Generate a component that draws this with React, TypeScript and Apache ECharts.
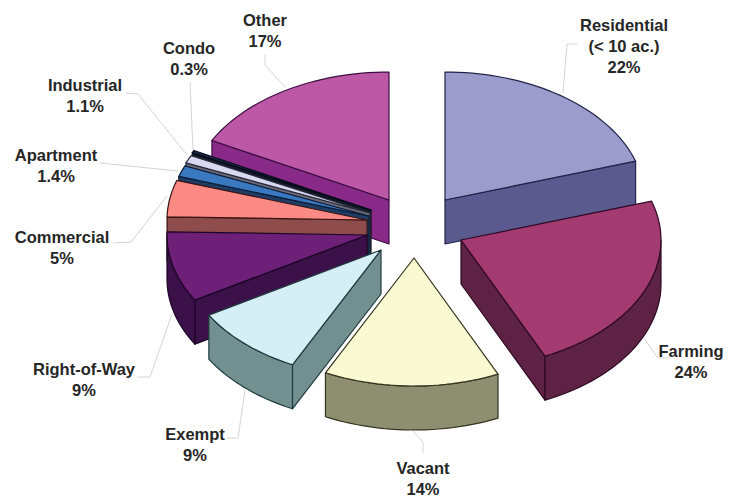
import React, { useEffect, useRef } from "react";
import * as echarts from "echarts";

// Data: clockwise from 12 o'clock.
const categories = ["Residential\n(< 10 ac.)", "Farming", "Vacant", "Exempt", "Right-of-Way", "Commercial", "Apartment", "Industrial", "Condo", "Other"];
// Printed percentages.
const percentLabels = ["22%", "24%", "14%", "9%", "9%", "5%", "1.4%", "1.1%", "0.3%", "17%"];
// Share of the circle each slice occupies.
const sliceShares = [20.1, 23.0, 14.2, 9.2, 8.9, 4.6, 1.4, 1.0, 0.3, 17.3];

// Styles and layout.
const topColors = ["#9c9ccc", "#a33a70", "#fafad2", "#d6eef5", "#6e2078", "#fb8a84", "#3a78c0", "#d8d8f0", "#1c2850", "#bd58a6"];
const wallColors = ["#5a5a8e", "#5e2244", "#8e8e70", "#729090", "#3c1048", "#8e4c4c", "#1e3c64", "#6a6a78", "#101828", "#8a2a88"];
const edgeColors = ["#22224a", "#2e0a24", "#33331f", "#1e3a3e", "#1c0626", "#3a1414", "#0c1c38", "#2a2a3a", "#080c18", "#3c0c44"];
const CX = 400, CY = 225, RX = 200, RY = 128, DEPTH = 44;
// Each slice's apex offset from the pie centre (the explosion).
const explode: number[][] = [[45, -25], [61, 15], [14, 33], [-19, 25], [-33, 10], [-33, -5], [-31, -9], [-30, -12], [-29, -15], [-11, -25]];
// Back to front.
const drawOrder = [0, 9, 8, 7, 6, 5, 4, 3, 1, 2];

const labelPos: number[][] = [[624, 46], [691, 361], [423, 478], [195, 444], [84, 379], [62, 247], [56, 165], [85, 95], [189, 58], [265, 30]];
const leaders: number[][][] = [
  [[577, 44], [567, 44], [563, 93]],
  [[643, 337], [658, 358], [670, 358]],
  [[413, 431], [423, 442], [423, 453]],
  [[245, 390], [238, 438], [227, 438]],
  [[172, 314], [150, 377], [137, 377]],
  [[167, 196], [131, 242], [113, 243]],
  [[178, 171], [100, 163]],
  [[187, 155], [138, 94], [126, 93]],
  [[193, 150], [190, 82]],
  [[285, 87], [265, 65], [265, 55]],
];

const starts: number[] = [];
let acc = 0;
const total = sliceShares.reduce((s, v) => s + v, 0);
for (const v of sliceShares) {
  starts.push((acc / total) * 360);
  acc += v;
}

function rimPoint(ax: number, ay: number, deg: number): number[] {
  const t = (deg * Math.PI) / 180;
  return [ax + RX * Math.sin(t), ay - RY * Math.cos(t)];
}
function arc(ax: number, ay: number, from: number, to: number): number[][] {
  const n = Math.max(2, Math.ceil(Math.abs(to - from) / 2));
  const pts: number[][] = [];
  for (let i = 0; i <= n; i++) pts.push(rimPoint(ax, ay, from + ((to - from) * i) / n));
  return pts;
}

function renderSlice(params: any, api: any) {
  const i = drawOrder[params.dataIndex];
  const span = (api.value(0) / total) * 360;
  const from = starts[i];
  const to = from + span;
  const ax = CX + explode[i][0];
  const ay = CY + explode[i][1];
  const children: any[] = [];
  const wallStyle = { fill: wallColors[i], stroke: edgeColors[i], lineWidth: 1.2, lineJoin: "round" };
  const addWall = (deg: number) => {
    const p = rimPoint(ax, ay, deg);
    children.push({
      type: "polygon",
      shape: { points: [[ax, ay], p, [p[0], p[1] + DEPTH], [ax, ay + DEPTH]] },
      style: wallStyle,
    });
  };
  // Side faces turned towards the viewer.
  if (to <= 180) addWall(to);
  if (from >= 180) addWall(from);
  // Outer rim, front half only.
  const r0 = Math.max(from, 90);
  const r1 = Math.min(to, 270);
  if (r1 > r0) {
    const upper = arc(ax, ay, r0, r1);
    const lower = upper.map((p) => [p[0], p[1] + DEPTH]).reverse();
    children.push({ type: "polygon", shape: { points: upper.concat(lower) }, style: wallStyle });
  }
  // Top face.
  children.push({
    type: "polygon",
    shape: { points: [[ax, ay], ...arc(ax, ay, from, to)] },
    style: { fill: topColors[i], stroke: edgeColors[i], lineWidth: 1.2, lineJoin: "round" },
  });
  return { type: "group", children };
}

export default function App() {
  const ref = useRef<HTMLDivElement>(null);
  useEffect(() => {
    document.body.style.margin = "0";
    document.body.style.background = "#fff";
    const chart = echarts.init(ref.current!, undefined, { renderer: "svg" });
    const graphic: any[] = [];
    leaders.forEach((pts) => {
      graphic.push({
        type: "polyline",
        z: 1,
        shape: { points: pts },
        style: { stroke: "#d4d4d4", lineWidth: 1, fill: "none" },
      });
    });
    categories.forEach((name, i) => {
      graphic.push({
        type: "text",
        z: 5,
        x: labelPos[i][0],
        y: labelPos[i][1],
        style: {
          text: `${name}\n${percentLabels[i]}`,
          fill: "#262626",
          font: 'bold 16.5px "Liberation Sans", Arial, sans-serif',
          lineHeight: 21,
          align: "center",
          verticalAlign: "middle",
        },
      });
    });
    chart.setOption({
      animation: false,
      backgroundColor: "#ffffff",
      graphic,
      series: [
        {
          type: "custom",
          coordinateSystem: "none",
          renderItem: renderSlice,
          z: 2,
          silent: true,
          data: drawOrder.map((i) => ({ name: categories[i], value: [sliceShares[i]] })),
        },
      ],
    });
    return () => chart.dispose();
  }, []);
  return <div ref={ref} style={{ width: 753, height: 497 }} />;
}
